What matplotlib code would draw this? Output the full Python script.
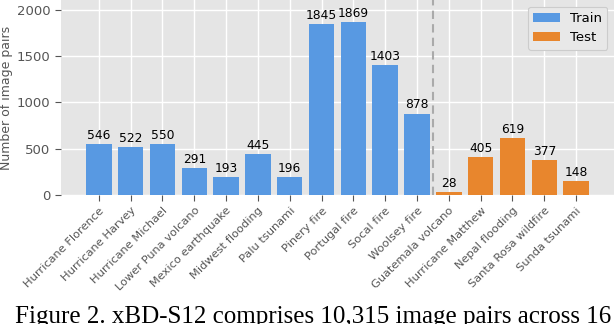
import matplotlib
matplotlib.use("Agg")
import matplotlib.pyplot as plt
import numpy as np

train_names = ["Hurricane Florence", "Hurricane Harvey", "Hurricane Michael",
               "Lower Puna volcano", "Mexico earthquake", "Midwest flooding",
               "Palu tsunami", "Pinery fire", "Portugal fire", "Socal fire",
               "Woolsey fire"]
train_vals = [546, 522, 550, 291, 193, 445, 196, 1845, 1869, 1403, 878]
test_names = ["Guatemala volcano", "Hurricane Matthew", "Nepal flooding",
              "Santa Rosa wildfire", "Sunda tsunami"]
test_vals = [28, 405, 619, 377, 148]
yticks = [0, 500, 1000, 1500, 2000]
caption = "Figure 2. xBD-S12 comprises 10,315 image pairs across 16"

blue = "#5899e2"
orange = "#e8862d"

fig = plt.figure(figsize=(6.14, 3.24), dpi=100)
ax = fig.add_axes([61/614, 1-195/324, 553/614, 195/324])
ax.set_facecolor("#e5e5e5")
for s in ax.spines.values():
    s.set_visible(False)
ax.set_axisbelow(True)
ax.grid(True, color="white", linewidth=1.0)

n_tr = len(train_vals)
x_tr = np.arange(n_tr)
x_te = np.arange(n_tr, n_tr + len(test_vals))
b1 = ax.bar(x_tr, train_vals, width=0.8, color=blue, label="Train")
b2 = ax.bar(x_te, test_vals, width=0.8, color=orange, label="Test")
for bars in (b1, b2):
    ax.bar_label(bars, padding=1.5, fontsize=8.8, color="black")
ax.axvline(n_tr - 0.5, color="#aaaaaa", linestyle="--", linewidth=1.5, dashes=(4, 2.5))

ax.set_ylim(0, max(train_vals + test_vals) * 1.125)
ax.set_yticks(yticks)
ax.set_xticks(np.arange(n_tr + len(test_vals)))
ax.set_xticklabels(train_names + test_names, rotation=45, ha="right",
                   rotation_mode="anchor", fontsize=8.2, color="#555555")
ax.tick_params(axis="y", labelsize=9.5, colors="#555555", length=4, width=0.8)
ax.tick_params(axis="x", colors="#555555", length=4, width=0.8)
ax.set_ylabel("Number of image pairs", fontsize=9.0, color="#555555")
ax.yaxis.set_label_coords(-0.087, 0.5)

leg = ax.legend(loc="upper right", fontsize=9.5, frameon=True, fancybox=True,
                facecolor="#e8e8e8", edgecolor="#cccccc", framealpha=1.0,
                borderaxespad=0.5)
leg.get_frame().set_linewidth(0.8)

fig.text(15/614, 1 - 323.5/324, caption, family="Liberation Serif", fontsize=18,
         ha="left", va="baseline", color="black")

fig.savefig("out.png", dpi=100)
